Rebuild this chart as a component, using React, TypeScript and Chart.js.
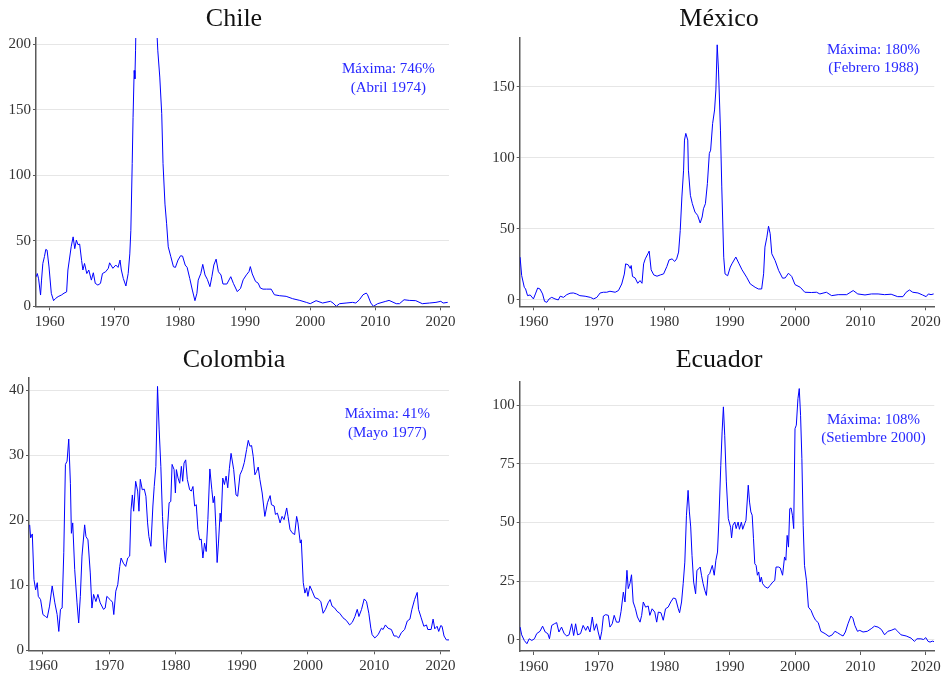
import React, { useEffect, useRef } from 'react';
import { Chart, registerables } from 'chart.js';

Chart.register(...registerables);

// ---------- Data ----------
const X_TICKS = [1960, 1970, 1980, 1990, 2000, 2010, 2020];

const CHILE_Y_TICKS = [0, 50, 100, 150, 200];
const CHILE_YEARS = [
  1957.95, 1958.1, 1958.3, 1958.6, 1958.75, 1958.95, 1959.2, 1959.4, 1959.6, 1959.9,
  1960.25, 1960.6, 1960.9, 1961.3, 1961.8, 1962.2, 1962.6, 1962.8, 1963.3, 1963.6,
  1963.85, 1964.1, 1964.35, 1964.6, 1964.9, 1965.1, 1965.35, 1965.7, 1966.0, 1966.4,
  1966.7, 1967.0, 1967.4, 1967.8, 1968.1, 1968.6, 1969.0, 1969.2, 1969.7, 1970.15,
  1970.5, 1970.8, 1971.0, 1971.3, 1971.7, 1972.05, 1972.3, 1972.46, 1972.67, 1972.8,
  1972.97, 1973.08, 1973.18, 1973.3, 1973.6, 1973.9, 1974.1, 1974.25, 1974.5, 1974.8,
  1975.1, 1975.5, 1975.9, 1976.2, 1976.45, 1976.6, 1976.9, 1977.2, 1977.4, 1977.7,
  1977.95, 1978.2, 1978.6, 1979.0, 1979.3, 1979.7, 1980.1, 1980.4, 1980.8, 1981.1,
  1981.5, 1981.9, 1982.3, 1982.6, 1982.8, 1983.2, 1983.5, 1983.85, 1984.2, 1984.6,
  1984.9, 1985.2, 1985.55, 1985.9, 1986.3, 1986.6, 1987.2, 1987.8, 1988.2, 1988.8,
  1989.3, 1989.7, 1990.2, 1990.6, 1990.8, 1991.1, 1991.6, 1992.0, 1992.35, 1992.75,
  1993.3, 1994.0, 1994.5, 1995.3, 1996.3, 1997.3, 1998.4, 1999.4, 2000.0, 2000.9,
  2001.9, 2003.1, 2003.5, 2004.0, 2004.5, 2005.5, 2006.5, 2007.0, 2007.55, 2008.1,
  2008.6, 2008.8, 2009.3, 2009.7, 2010.35, 2011.6, 2012.1, 2013.2, 2013.7, 2014.4,
  2015.2, 2016.2, 2017.2, 2018.3, 2019.3, 2020.05, 2020.4, 2021.1,
];
const CHILE_VALUES = [
  22.6, 25, 21, 8.6, 20, 32.7, 38, 43.4, 42.9, 30,
  9.9, 4.3, 6, 7.4, 8.6, 10, 11, 27.7, 45.4, 53,
  44, 50.5, 47, 47.5, 35, 27.7, 32.7, 25, 27.7, 20,
  25.6, 17.5, 16.2, 17.5, 25, 26.4, 29, 33.2, 29, 31.5,
  29.7, 35.3, 27.7, 21.3, 15.5, 25, 40, 58, 109, 144,
  180, 173.6, 195, 230, 350, 500, 650, 746, 690, 560,
  420, 340, 290, 250, 210, 195, 175, 147, 109, 78,
  63, 45.4, 37.8, 30.2, 29.7, 35.3, 38.6, 38.3, 31.5, 29.7,
  21.3, 12.4, 4.3, 9.9, 20, 25, 32, 23.9, 20.6, 15,
  22.6, 31.5, 36, 26.4, 23.9, 17, 17, 22.6, 17.5, 11.2,
  13.7, 20.2, 24, 26.5, 30.3, 24.7, 19, 17.7, 13.9, 13.1,
  13.1, 13.1, 8.8, 8.1, 7.6, 5.8, 4.5, 3, 2, 4.3,
  2.5, 3.8, 2.5, 0, 2, 2.5, 3, 2.5, 5, 8.8,
  10.1, 8.8, 2.5, 0, 2, 3.8, 4.5, 2, 2, 5,
  4.5, 4.3, 2, 2.5, 3, 3.8, 2.5, 3,
];

const MEXICO_Y_TICKS = [0, 50, 100, 150];
const MEXICO_YEARS = [
  1957.96, 1958.2, 1958.6, 1958.8, 1959.1, 1959.5, 1960.0, 1960.3, 1960.65, 1961.0,
  1961.4, 1961.7, 1962.05, 1962.4, 1962.8, 1963.3, 1963.8, 1964.1, 1964.6, 1965.1,
  1965.6, 1966.1, 1966.6, 1967.1, 1967.9, 1968.7, 1969.2, 1969.7, 1970.2, 1970.7,
  1971.2, 1971.7, 1972.5, 1973.0, 1973.5, 1973.9, 1974.1, 1974.5, 1974.8, 1974.95,
  1975.15, 1975.55, 1975.95, 1976.3, 1976.6, 1976.85, 1977.1, 1977.5, 1977.7, 1978.0,
  1978.4, 1978.9, 1979.4, 1979.9, 1980.4, 1980.75, 1981.2, 1981.6, 1981.9, 1982.2,
  1982.45, 1982.7, 1982.96, 1983.1, 1983.3, 1983.6, 1983.7, 1984.0, 1984.3, 1984.7,
  1985.1, 1985.5, 1985.8, 1986.0, 1986.3, 1986.6, 1986.9, 1987.1, 1987.4, 1987.7,
  1987.9, 1988.1, 1988.3, 1988.6, 1988.8, 1989.1, 1989.3, 1989.7, 1990.1, 1990.35,
  1990.95, 1991.4, 1991.9, 1992.6, 1993.15, 1993.9, 1994.4, 1994.9, 1995.2, 1995.4,
  1995.7, 1995.95, 1996.2, 1996.45, 1996.95, 1997.5, 1998.1, 1998.5, 1999.0, 1999.5,
  2000.0, 2000.8, 2001.5, 2002.5, 2003.3, 2003.8, 2004.8, 2005.6, 2006.6, 2007.9,
  2008.9, 2009.6, 2010.7, 2011.7, 2012.7, 2013.7, 2014.7, 2015.7, 2016.5, 2017.0,
  2017.5, 2018.0, 2018.8, 2019.5, 2020.05, 2020.4, 2020.8, 2021.2,
];
const MEXICO_VALUES = [
  29.9, 17, 8.7, 7.5, 2.8, 3.3, 0.5, 4, 8.2, 7.5,
  4, -1.2, -1.9, 0.5, 1.6, 0.5, -0.2, 2.4, 1.6, 3.5,
  4.5, 4.7, 4, 2.8, 2.4, 1.6, 0.5, 1.6, 4.7, 5.2,
  5.2, 5.9, 5.2, 6.4, 11, 18, 25.2, 24.5, 22, 24,
  16.3, 15.3, 11.5, 13.4, 11.5, 25.2, 28.7, 32.3, 34.2, 21,
  17.4, 16.5, 17.4, 18.1, 23.3, 28, 28.7, 26.9, 28.7, 33.5,
  48.8, 72.3, 91.2, 112.4, 117.1, 112.4, 91.2, 73.5, 67.6, 61.7,
  59.4, 54, 58.2, 64, 67.6, 81.7, 103, 105.3, 124, 133.6,
  147.7, 179.5, 161.8, 119.4, 79.4, 29.9, 18.1, 16.8, 22.9, 25.2,
  30, 25.7, 21, 15.8, 11.1, 8.7, 7.5, 7.5, 18.2, 37,
  44, 51.7, 46.5, 32.3, 27.6, 20.5, 15.1, 15.3, 18.6, 16.3,
  10.6, 8.7, 5.2, 5, 5.2, 4, 5.2, 2.8, 3.5, 3.5,
  6.4, 4, 3.3, 4, 4, 3.5, 3.8, 2.1, 2.1, 5.2,
  6.8, 5.2, 4.7, 3.3, 2.1, 4, 3.5, 4,
];

const COLOMBIA_Y_TICKS = [0, 10, 20, 30, 40];
const COLOMBIA_YEARS = [
  1958.0, 1958.15, 1958.4, 1958.65, 1958.9, 1959.15, 1959.3, 1959.65, 1960.0, 1960.4,
  1960.65, 1961.0, 1961.4, 1961.8, 1962.15, 1962.4, 1962.65, 1962.9, 1963.15, 1963.4,
  1963.65, 1963.9, 1964.15, 1964.3, 1964.5, 1964.8, 1965.15, 1965.4, 1965.65, 1965.9,
  1966.3, 1966.5, 1966.8, 1967.15, 1967.4, 1967.65, 1968.0, 1968.3, 1968.65, 1969.15,
  1969.4, 1969.65, 1970.15, 1970.5, 1970.7, 1971.0, 1971.3, 1971.6, 1971.8, 1972.15,
  1972.5, 1972.8, 1973.1, 1973.3, 1973.5, 1973.7, 1974.0, 1974.3, 1974.5, 1974.7,
  1975.0, 1975.3, 1975.55, 1975.8, 1976.0, 1976.3, 1976.6, 1976.8, 1977.05, 1977.3,
  1977.55, 1977.8, 1978.05, 1978.3, 1978.5, 1978.8, 1979.05, 1979.3, 1979.5, 1979.8,
  1980.0, 1980.15, 1980.4, 1980.65, 1980.9, 1981.1, 1981.3, 1981.55, 1981.8, 1982.15,
  1982.4, 1982.65, 1982.9, 1983.15, 1983.4, 1983.65, 1983.9, 1984.15, 1984.4, 1984.65,
  1984.9, 1985.2, 1985.5, 1985.7, 1985.9, 1986.1, 1986.3, 1986.5, 1986.75, 1986.9,
  1987.15, 1987.4, 1987.65, 1987.9, 1988.15, 1988.4, 1988.8, 1989.15, 1989.4, 1989.75,
  1990.1, 1990.4, 1990.75, 1991.0, 1991.25, 1991.5, 1991.75, 1992.0, 1992.25, 1992.5,
  1992.75, 1993.1, 1993.5, 1993.9, 1994.3, 1994.5, 1994.9, 1995.1, 1995.4, 1995.8,
  1996.1, 1996.4, 1996.8, 1997.0, 1997.3, 1997.6, 1998.0, 1998.3, 1998.5, 1998.85,
  1999.0, 1999.3, 1999.55, 1999.8, 2000.0, 2000.3, 2000.65, 2001.05, 2001.55, 2001.95,
  2002.3, 2002.65, 2003.05, 2003.35, 2003.65, 2004.05, 2004.4, 2004.8, 2005.3, 2005.8,
  2006.3, 2006.7, 2007.1, 2007.45, 2007.7, 2008.1, 2008.5, 2008.85, 2009.2, 2009.5,
  2009.7, 2010.1, 2010.6, 2011.1, 2011.35, 2011.7, 2012.1, 2012.6, 2013.0, 2013.35,
  2013.7, 2014.1, 2014.6, 2015.0, 2015.4, 2015.7, 2016.1, 2016.5, 2016.7, 2017.1,
  2017.5, 2017.9, 2018.1, 2018.6, 2018.9, 2019.15, 2019.5, 2019.75, 2020.05, 2020.25,
  2020.55, 2020.9, 2021.3,
];
const COLOMBIA_VALUES = [
  19.3, 17.3, 17.9, 10.9, 9.3, 10.4, 8.3, 7.8, 5.5, 5.2,
  5, 6.8, 9.9, 7.3, 5.5, 2.9, 6.3, 6.5, 15, 28.6,
  29.1, 32.5, 25.7, 18, 19.6, 12.4, 7.3, 4.2, 8.3, 14.5,
  19.3, 17.5, 17, 11.9, 6.5, 8.6, 7.5, 8.6, 7.3, 6.3,
  6.5, 8.3, 7.8, 7.4, 5.5, 9.1, 10.1, 12.9, 14.2, 13.4,
  12.9, 14.2, 14.5, 21.6, 23.9, 21.4, 26, 24.5, 21.4, 26.3,
  24.7, 24.8, 23.7, 19.6, 17.5, 16, 22.2, 25.2, 28.3, 40.6,
  33.9, 28.3, 20.6, 15.5, 13.5, 18.6, 22.7, 22.9, 28.6, 27.8,
  24.2, 27.8, 26.5, 25.7, 28.3, 26, 28.8, 29.3, 26.3, 24.7,
  24.5, 25.2, 22.2, 22.4, 18.6, 17, 17.1, 14.2, 16.5, 15.2,
  20.1, 27.9, 24.7, 22.7, 23.7, 19.1, 13.5, 16.5, 21.1, 19.8,
  26.5, 25.5, 26.8, 25, 28, 30.3, 27.8, 23.9, 23.7, 27,
  27.8, 28.9, 30.9, 32.3, 31.4, 31.5, 29.8, 27, 27.5, 28.2,
  26.3, 24.2, 20.6, 22.7, 23.8, 22.4, 22.2, 20.9, 21.1, 19.6,
  20.6, 20.1, 21.9, 20.6, 18.6, 18.1, 17.8, 20.6, 19.6, 16.5,
  17, 10.4, 8.8, 9.6, 8.3, 9.9, 9.1, 8.1, 7.9, 7.5,
  5.7, 6.3, 7.3, 7.8, 6.8, 6.5, 6, 5.7, 5, 4.6,
  3.9, 4.3, 5.2, 6.3, 5.2, 6.3, 7.9, 7.5, 5.7, 3.4,
  2.4, 1.9, 2.4, 3.4, 3.2, 3.9, 3.4, 3.2, 2.2, 2.2,
  1.9, 2.7, 3.2, 4.5, 4.8, 6.3, 7.8, 8.9, 6.3, 5,
  3.7, 3.9, 3.2, 3.2, 4.8, 3.3, 3.7, 2.9, 3.8, 3.7,
  2.2, 1.6, 1.6,
];

const ECUADOR_Y_TICKS = [0, 25, 50, 75, 100];
const ECUADOR_YEARS = [
  1957.96, 1958.2, 1958.6, 1959.0, 1959.35, 1959.75, 1960.15, 1960.5, 1961.0, 1961.4,
  1961.8, 1962.2, 1962.45, 1962.8, 1963.2, 1963.55, 1963.9, 1964.3, 1964.7, 1965.1,
  1965.45, 1965.85, 1966.15, 1966.45, 1966.75, 1967.2, 1967.6, 1968.0, 1968.3, 1968.65,
  1969.0, 1969.3, 1969.65, 1969.9, 1970.2, 1970.45, 1970.7, 1971.05, 1971.45, 1971.7,
  1972.05, 1972.35, 1972.7, 1973.1, 1973.4, 1973.75, 1974.0, 1974.3, 1974.5, 1974.75,
  1975.0, 1975.25, 1975.6, 1975.9, 1976.3, 1976.55, 1976.8, 1977.15, 1977.55, 1977.8,
  1978.15, 1978.55, 1978.85, 1979.1, 1979.5, 1979.85, 1980.2, 1980.6, 1981.0, 1981.4,
  1981.75, 1982.15, 1982.35, 1982.65, 1982.9, 1983.15, 1983.4, 1983.65, 1983.85, 1984.05,
  1984.25, 1984.5, 1984.8, 1985.0, 1985.3, 1985.5, 1985.7, 1985.95, 1986.2, 1986.45,
  1986.7, 1986.95, 1987.35, 1987.65, 1987.9, 1988.15, 1988.35, 1988.65, 1988.85, 1989.05,
  1989.25, 1989.5, 1989.8, 1990.15, 1990.3, 1990.5, 1990.8, 1991.0, 1991.3, 1991.5,
  1991.8, 1992.0, 1992.3, 1992.5, 1992.85, 1993.05, 1993.25, 1993.45, 1993.65, 1993.85,
  1994.05, 1994.25, 1994.45, 1994.65, 1994.85, 1995.05, 1995.45, 1995.85, 1996.2, 1996.6,
  1996.9, 1997.1, 1997.5, 1997.75, 1998.1, 1998.4, 1998.6, 1998.8, 1999.0, 1999.2,
  1999.4, 1999.6, 1999.8, 2000.0, 2000.2, 2000.45, 2000.65, 2000.85, 2001.05, 2001.25,
  2001.45, 2001.75, 2002.05, 2002.45, 2002.8, 2003.15, 2003.55, 2003.95, 2004.6, 2005.2,
  2005.7, 2006.1, 2006.5, 2007.0, 2007.35, 2007.7, 2008.1, 2008.55, 2008.85, 2009.15,
  2009.55, 2009.9, 2010.4, 2011.05, 2011.65, 2012.15, 2012.7, 2013.2, 2013.7, 2014.2,
  2014.7, 2015.3, 2015.7, 2016.2, 2017.0, 2017.75, 2018.25, 2018.65, 2019.25, 2019.65,
  2020.0, 2020.35, 2020.65, 2021.0, 2021.25,
];
const ECUADOR_VALUES = [
  5.4, 2.1, -0.3, -1.7, 0.4, -0.3, 0.4, 2.6, 3.6, 5.8,
  3.3, 2.6, 0.4, 6.1, 6.8, 7.3, 3.3, 5.4, 2.6, 1.6,
  2.1, 6.8, 1.8, 6.8, 2.1, 2.6, 6.1, 4, 5.8, 3.3,
  9.7, 4, 6.8, 3.3, 0, 3.6, 10.1, 10.7, 10.4, 5.4,
  6.8, 10.4, 7.5, 7.5, 12.1, 20.3, 16.1, 29.6, 21.8, 23.9,
  27.7, 16.1, 13.2, 9.7, 7.5, 10.4, 16.1, 13.9, 14.4, 10.4,
  13.2, 11.8, 7.5, 11.8, 11.5, 8.3, 13.2, 13.9, 16.1, 17.8,
  17.5, 13.2, 11.5, 16.1, 23.9, 33.1, 53.1, 63.7, 54.5, 48.1,
  36, 24.6, 19.6, 29.6, 30.3, 31, 27.5, 23.9, 21.1, 18.9,
  27.5, 28.2, 31.7, 27.5, 33.9, 37.4, 50.2, 74.4, 88.6, 99.3,
  87.2, 67.3, 51.6, 48, 43.4, 48.8, 50.2, 47.4, 50.2, 47.1,
  50.2, 47.1, 49.5, 50.9, 65.9, 58.7, 54.5, 53.1, 43.1, 32.4,
  31.7, 27.5, 28.9, 24.6, 26.7, 23.9, 22.5, 22, 23.2, 24.6,
  25.3, 31, 31, 30.6, 27.5, 35.3, 33.9, 44.5, 39.5, 55.9,
  56.2, 53.1, 47.4, 90, 91.5, 102.8, 107.1, 95.7, 77.2, 48.8,
  31.7, 25.3, 13.9, 12.5, 10.1, 8.3, 7.3, 3.6, 2.6, 1.4,
  2.1, 3.6, 3, 2.1, 1.6, 3.3, 6.8, 10.1, 9.2, 6.1,
  3.6, 4, 3.3, 3.6, 4.7, 5.8, 5.4, 4.4, 2.1, 3.6,
  4, 4.7, 3.6, 2.1, 1.6, 0.7, -0.7, 0.4, 0.4, 0.1,
  0.9, -0.7, -1, -0.6, -0.8,
];

const CHILE_NOTE = ['Máxima: 746%', '(Abril 1974)'];
const MEXICO_NOTE = ['Máxima: 180%', '(Febrero 1988)'];
const COLOMBIA_NOTE = ['Máxima: 41%', '(Mayo 1977)'];
const ECUADOR_NOTE = ['Máxima: 108%', '(Setiembre 2000)'];

// ---------- Styles ----------
const FONT = '"Liberation Serif", "Times New Roman", serif';
const LINE_COLOR = 'rgb(0,0,255)';
const NOTE_COLOR = 'rgb(40,40,255)';
const AXIS_COLOR = '#5a5a5a';
const GRID_COLOR = '#e6e6e6';
const TICK_TEXT = '#333333';

const notePlugin = {
  id: 'note',
  afterDatasetsDraw(chart: any, _args: any, opts: any) {
    if (!opts || !opts.lines) return;
    const { ctx } = chart;
    const xs = chart.scales.x;
    const ys = chart.scales.y;
    const px = xs.getPixelForValue(opts.x);
    const py = ys.getPixelForValue(opts.y);
    ctx.save();
    ctx.font = `15px ${FONT}`;
    ctx.fillStyle = NOTE_COLOR;
    ctx.textAlign = 'center';
    ctx.textBaseline = 'middle';
    opts.lines.forEach((t: string, i: number) => ctx.fillText(t, px, py + i * opts.gap));
    ctx.restore();
  },
};

type Panel = {
  title: string;
  years: number[];
  values: number[];
  yTicks: number[];
  yMin: number;
  yMax: number;
  note: string[];
  noteX: number;
  noteY: number;
  box: { left: number; top: number; w: number; h: number };
  area: { l: number; r: number; b: number };
  titlePad: { top: number; bottom: number };
};

// canvas boxes are chosen so that the full-width title is centred like the reference
const PANELS: Panel[] = [
  {
    title: 'Chile', years: CHILE_YEARS, values: CHILE_VALUES, yTicks: CHILE_Y_TICKS,
    yMin: 0, yMax: 204.8, note: CHILE_NOTE, noteX: 2012, noteY: 181,
    box: { left: 0, top: 0, w: 468, h: 337 }, area: { l: 36, r: 449, b: 306.3 },
    titlePad: { top: 3.5, bottom: 3.3 },
  },
  {
    title: 'México', years: MEXICO_YEARS, values: MEXICO_VALUES, yTicks: MEXICO_Y_TICKS,
    yMin: -4.7, yMax: 184.8, note: MEXICO_NOTE, noteX: 2012, noteY: 175.9,
    box: { left: 490, top: 0, w: 458, h: 337 }, area: { l: 29.7, r: 444.3, b: 306.3 },
    titlePad: { top: 3.5, bottom: 2.6 },
  },
  {
    title: 'Colombia', years: COLOMBIA_YEARS, values: COLOMBIA_VALUES, yTicks: COLOMBIA_Y_TICKS,
    yMin: 0, yMax: 41.94, note: COLOMBIA_NOTE, noteX: 2012, noteY: 36.3,
    box: { left: 0, top: 337, w: 468, h: 338 }, area: { l: 29, r: 449, b: 313.3 },
    titlePad: { top: 7.5, bottom: 2.0 },
  },
  {
    title: 'Ecuador', years: ECUADOR_YEARS, values: ECUADOR_VALUES, yTicks: ECUADOR_Y_TICKS,
    yMin: -4.8, yMax: 110.2, note: ECUADOR_NOTE, noteX: 2012, noteY: 93.8,
    box: { left: 490, top: 337, w: 458, h: 338 }, area: { l: 29.7, r: 444.3, b: 314 },
    titlePad: { top: 7.5, bottom: 5.6 },
  },
];

function PanelChart({ p }: { p: Panel }) {
  const ref = useRef<HTMLCanvasElement | null>(null);
  useEffect(() => {
    if (!ref.current) return;
    const tickFont = { family: FONT, size: 15 };
    const rightGap = p.box.w - p.area.r;
    const chart = new Chart(ref.current, {
      type: 'line',
      data: {
        datasets: [
          {
            data: p.years.map((x, i) => ({ x, y: p.values[i] })),
            borderColor: LINE_COLOR,
            borderWidth: 1,
            pointRadius: 0,
            tension: 0,
            fill: false,
          },
        ],
      },
      options: {
        responsive: false,
        animation: false,
        layout: { padding: 0 },
        plugins: {
          legend: { display: false },
          tooltip: { enabled: false },
          title: {
            display: true,
            text: p.title,
            color: '#111111',
            font: { family: FONT, size: 26, weight: 'normal', lineHeight: 1.2 },
            padding: { top: p.titlePad.top, bottom: p.titlePad.bottom },
          },
          note: { lines: p.note, x: p.noteX, y: p.noteY, gap: 18.5 },
        } as any,
        scales: {
          x: {
            type: 'linear',
            min: 1957.9,
            max: 2021.3,
            afterBuildTicks: (s: any) => {
              s.ticks = X_TICKS.map((v) => ({ value: v }));
            },
            afterFit: (s: any) => {
              s.height = p.box.h - p.area.b;
              s.paddingLeft = 0;
              s.paddingRight = 0;
            },
            grid: { drawOnChartArea: false, drawTicks: true, tickLength: 4, tickColor: AXIS_COLOR, tickWidth: 1 },
            border: { display: true, color: AXIS_COLOR, width: 1.5 },
            ticks: {
              padding: 3,
              font: tickFont,
              color: TICK_TEXT,
              maxRotation: 0,
              autoSkip: false,
              callback: (v: any) => String(v),
            },
          },
          y: {
            type: 'linear',
            position: 'left',
            min: p.yMin,
            max: p.yMax,
            afterBuildTicks: (s: any) => {
              s.ticks = p.yTicks.map((v) => ({ value: v }));
            },
            afterFit: (s: any) => {
              s.width = p.area.l;
              s.paddingTop = 0;
              s.paddingBottom = 0;
            },
            grid: { color: GRID_COLOR, lineWidth: 1, drawTicks: true, tickLength: 3, tickColor: AXIS_COLOR },
            border: { display: true, color: AXIS_COLOR, width: 1.5 },
            ticks: {
              padding: 2,
              font: tickFont,
              color: TICK_TEXT,
              autoSkip: false,
              callback: (v: any) => String(v),
            },
          },
          // empty right-hand gutter (no ticks, no line) so the plot stops short of the title box
          gutter: {
            type: 'linear',
            position: 'right',
            min: 0,
            max: 1,
            grid: { display: false, drawTicks: false },
            border: { display: false },
            ticks: { display: false },
            afterFit: (s: any) => {
              s.width = rightGap;
              s.paddingTop = 0;
              s.paddingBottom = 0;
            },
          },
        },
      },
      plugins: [notePlugin],
    } as any);
    return () => chart.destroy();
  }, [p]);
  return (
    <canvas
      ref={ref}
      width={p.box.w}
      height={p.box.h}
      style={{ position: 'absolute', left: p.box.left, top: p.box.top, width: p.box.w, height: p.box.h, display: 'block' }}
    />
  );
}

export default function App() {
  return (
    <div style={{ position: 'absolute', left: 0, top: 0, width: 949, height: 675, background: '#ffffff', overflow: 'hidden' }}>
      {PANELS.map((p) => (
        <PanelChart key={p.title} p={p} />
      ))}
    </div>
  );
}
